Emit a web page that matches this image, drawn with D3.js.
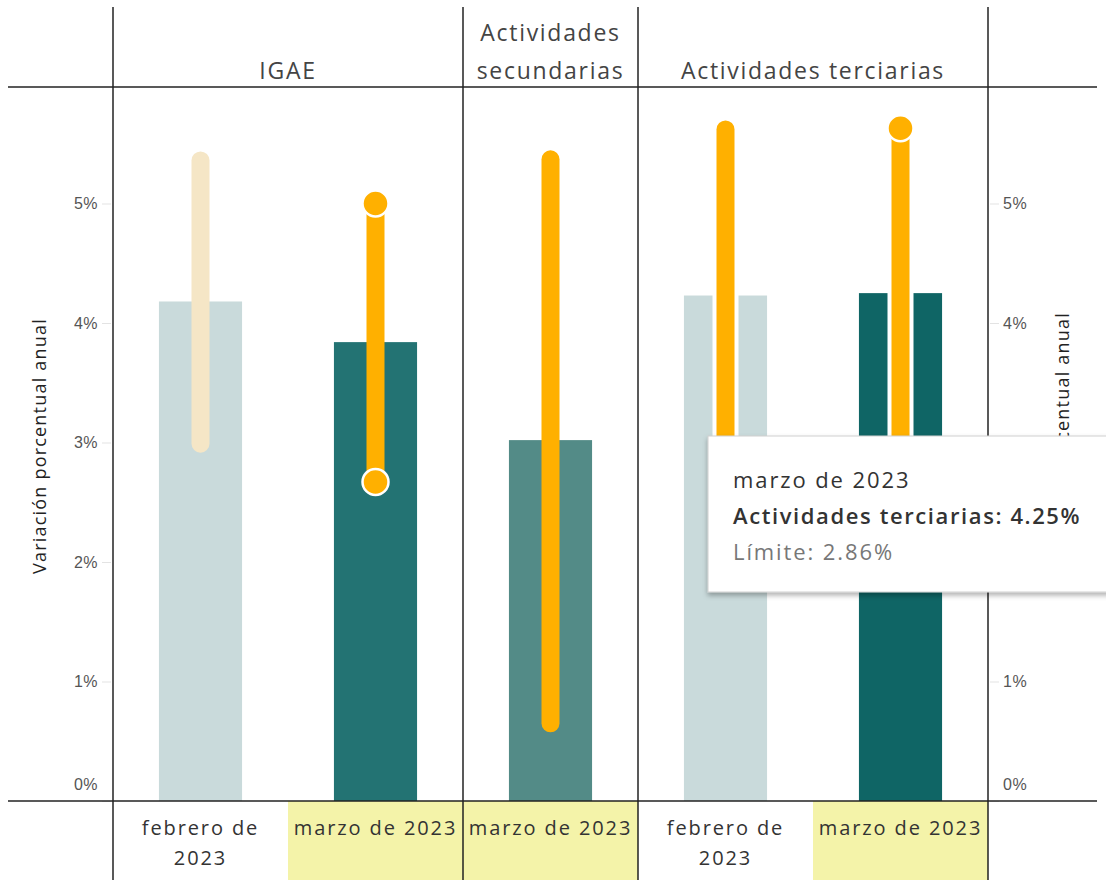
<!DOCTYPE html>
<html>
<head>
<meta charset="utf-8">
<script src="https://cdn.jsdelivr.net/npm/d3@7"></script>
<style>
  html, body { margin: 0; padding: 0; background: #fff; }
  svg { display: block; font-family: "Open Sans", "Noto Sans", sans-serif; }
</style>
</head>
<body>
<svg id="chart" width="1106" height="880"></svg>
<script>
// ---- Data ----
const groups = ["IGAE", "Actividades secundarias", "Actividades terciarias"];
const groupLabelLines = [["IGAE"], ["Actividades", "secundarias"], ["Actividades terciarias"]];
const categoryGroup = [0, 0, 1, 2, 2];
const categoryLabels = [["febrero de", "2023"], ["marzo de 2023"], ["marzo de 2023"], ["febrero de", "2023"], ["marzo de 2023"]];
const values = [4.18, 3.84, 3.02, 4.23, 4.25];
const limitHigh = [5.36, 5.00, 5.37, 5.62, 5.63];
const limitLow = [2.99, 2.67, 0.65, 2.90, 2.86];
const highlighted = [false, true, true, false, true];
const yTicks = [0, 1, 2, 3, 4, 5];
const tooltipLines = ["marzo de 2023", "Actividades terciarias: 4.25%", "Límite: 2.86%"];

// ---- Styles ----
const barColors = ["#c9dadb", "#237373", "#538b87", "#c9dadb", "#0f6565"];
const lineColors = ["#f5e6c6", "#ffb000", "#ffb000", "#ffb000", "#ffb000"];
const showDots = [false, true, false, false, true];
const halo = [false, false, false, true, true];

const svg = d3.select("#chart");
const mLeft = 113, mRight = 988, mTop = 87, mBottom = 801;

const x = d3.scaleBand().domain(d3.range(values.length)).range([mLeft, mRight]).padding(0);
const barW = x.bandwidth() * 0.475;
const y = d3.scaleLinear().domain([0, 6]).range([mBottom, mBottom - 6 * 119.5]);

const defs = svg.append("defs");
const shadow = defs.append("filter").attr("id", "shadow").attr("x", "-10%").attr("y", "-10%").attr("width", "130%").attr("height", "140%");
shadow.append("feDropShadow").attr("dx", 0).attr("dy", 3).attr("stdDeviation", 2.5).attr("flood-color", "#000").attr("flood-opacity", 0.3);

// highlighted category cells
svg.append("g").selectAll("rect")
  .data(d3.range(values.length).filter(i => highlighted[i]))
  .join("rect")
  .attr("x", i => x(i)).attr("y", mBottom)
  .attr("width", x.bandwidth()).attr("height", 880 - mBottom)
  .attr("fill", "#f4f3a9");

// y tick marks and labels (left & right)
const leftAxis = d3.axisLeft(y).tickValues(yTicks).tickFormat(d => d + "%").tickSize(9).tickPadding(4);
const gL = svg.append("g").attr("transform", `translate(${mLeft - 2},0)`).call(leftAxis);
const rightAxis = d3.axisRight(y).tickValues(yTicks).tickFormat(d => d + "%").tickSize(9).tickPadding(4);
const gR = svg.append("g").attr("transform", `translate(${mRight + 2},0)`).call(rightAxis);
[gL, gR].forEach(g => {
  g.select(".domain").remove();
  g.selectAll(".tick line").attr("stroke", "#e3e3e3");
  g.selectAll(".tick text").attr("fill", "#555").style("font-size", "16px").style("letter-spacing", "0.5px");
  g.selectAll(".tick").filter(d => d === 0).select("text").attr("dy", "-0.75em");
});

// bars
svg.append("g").selectAll("rect")
  .data(values)
  .join("rect")
  .attr("x", (d, i) => x(i) + (x.bandwidth() - barW) / 2)
  .attr("y", d => y(d))
  .attr("width", barW)
  .attr("height", d => mBottom - y(d))
  .attr("fill", (d, i) => barColors[i]);

// range lines
const cx = i => x(i) + x.bandwidth() / 2;
const lines = svg.append("g");
d3.range(values.length).forEach(i => {
  if (halo[i]) {
    lines.append("line")
      .attr("x1", cx(i)).attr("x2", cx(i))
      .attr("y1", y(limitHigh[i])).attr("y2", y(limitLow[i]))
      .attr("stroke", "#fff").attr("stroke-width", 26);
  }
  lines.append("line")
    .attr("x1", cx(i)).attr("x2", cx(i))
    .attr("y1", y(limitHigh[i])).attr("y2", y(limitLow[i]))
    .attr("stroke", lineColors[i]).attr("stroke-width", 18)
    .attr("stroke-linecap", showDots[i] ? "butt" : "round");
  if (showDots[i]) {
    [limitHigh[i], limitLow[i]].forEach(v => {
      lines.append("circle")
        .attr("cx", cx(i)).attr("cy", y(v)).attr("r", 13)
        .attr("fill", lineColors[i]).attr("stroke", "#fff").attr("stroke-width", 2.5);
    });
  }
});

// grid frame
const frame = svg.append("g").attr("stroke", "#222").attr("stroke-width", 1.5);
frame.append("line").attr("x1", 8).attr("x2", 1097).attr("y1", mTop).attr("y2", mTop);
frame.append("line").attr("x1", 8).attr("x2", 1097).attr("y1", mBottom).attr("y2", mBottom);
const groupBounds = [mLeft, x(2), x(3), mRight];
groupBounds.forEach(b => {
  frame.append("line").attr("x1", b).attr("x2", b).attr("y1", 7).attr("y2", 880);
});

// group headers
groups.forEach((g, gi) => {
  const cxg = (groupBounds[gi] + groupBounds[gi + 1]) / 2;
  const linesG = groupLabelLines[gi];
  linesG.forEach((t, li) => {
    svg.append("text")
      .attr("x", cxg)
      .attr("y", 79 - (linesG.length - 1 - li) * 38)
      .attr("text-anchor", "middle")
      .attr("fill", "#444")
      .style("font-size", "23px")
      .style("letter-spacing", "1.7px")
      .text(t);
  });
});

// category labels
categoryLabels.forEach((lbl, i) => {
  lbl.forEach((t, li) => {
    svg.append("text")
      .attr("x", cx(i))
      .attr("y", 835 + li * 30)
      .attr("text-anchor", "middle")
      .attr("fill", "#333")
      .style("font-size", "20px")
      .style("letter-spacing", "1.9px")
      .text(t);
  });
});

// axis titles
svg.append("text")
  .attr("transform", `translate(46,446) rotate(-90)`)
  .attr("text-anchor", "middle")
  .attr("fill", "#222")
  .style("font-size", "18px")
  .style("letter-spacing", "1.2px")
  .text("Variación porcentual anual");
svg.append("text")
  .attr("transform", `translate(1069,440) rotate(-90)`)
  .attr("text-anchor", "middle")
  .attr("fill", "#222")
  .style("font-size", "18px")
  .style("letter-spacing", "1.2px")
  .text("Variación porcentual anual");

// tooltip
const tip = svg.append("g");
tip.append("rect")
  .attr("x", 708).attr("y", 436).attr("width", 420).attr("height", 156)
  .attr("fill", "#fff").attr("stroke", "#d0d0d0").attr("stroke-width", 1)
  .attr("filter", "url(#shadow)");
tooltipLines.forEach((t, i) => {
  tip.append("text")
    .attr("x", 733).attr("y", 488 + i * 36)
    .attr("fill", i === 2 ? "#777" : "#333")
    .style("font-size", "22px")
    .style("letter-spacing", i === 1 ? "1.6px" : "1.9px")
    .style("font-weight", i === 1 ? 600 : 500)
    .text(t);
});
</script>
</body>
</html>
